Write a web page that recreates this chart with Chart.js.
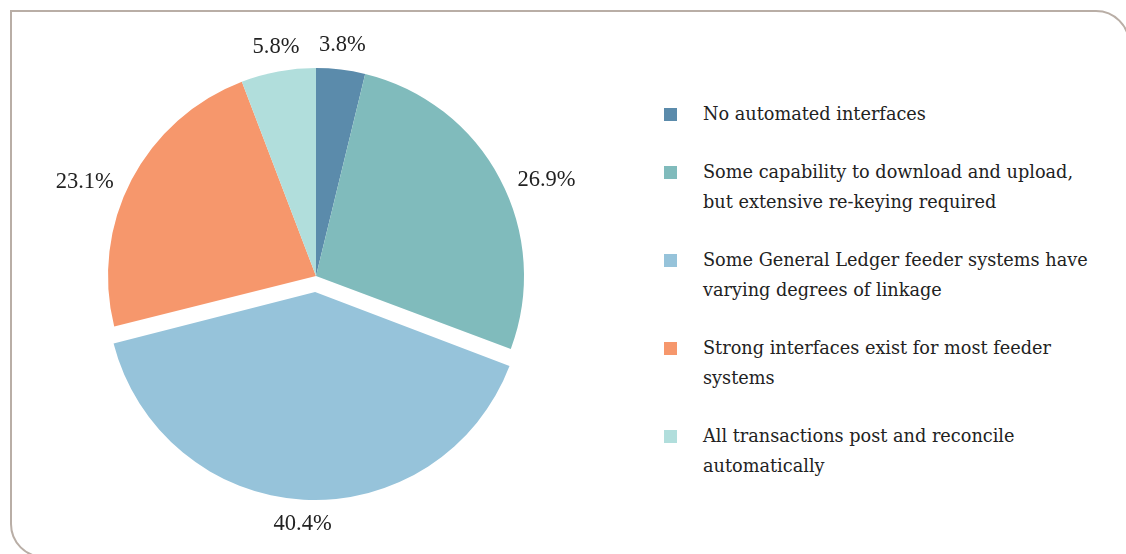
<!DOCTYPE html>
<html>
<head>
<meta charset="utf-8">
<script src="https://cdn.jsdelivr.net/npm/chart.js@4.4.1/dist/chart.umd.min.js"></script>
<style>
  html, body { margin:0; padding:0; background:#fff; }
  #wrap { position:relative; width:1126px; height:554px; overflow:hidden; }
  #frame {
    position:absolute; left:10px; top:10px; width:1120px; height:548px;
    border:2px solid #b9aea6; border-radius:0 34px 0 34px; box-sizing:border-box;
  }
  #pieBox { position:absolute; left:0; top:0; width:632px; height:552px; }
  #legend {
    position:absolute; left:664px; top:99px;
    font-family:"DejaVu Serif", serif; font-size:17.7px; color:#222;
  }
  .item { position:relative; padding-left:39px; line-height:30px; margin-bottom:28px; white-space:nowrap; }
  .box { position:absolute; left:0; top:9px; width:13px; height:13px; }
</style>
</head>
<body>
<div id="wrap">
  <div id="frame"></div>
  <div id="pieBox"><canvas id="myChart"></canvas></div>
  <div id="legend"></div>
</div>
<script>
labels = [
    ['No automated interfaces'],
    ['Some capability to download and upload,', 'but extensive re-keying required'],
    ['Some General Ledger feeder systems have', 'varying degrees of linkage'],
    ['Strong interfaces exist for most feeder', 'systems'],
    ['All transactions post and reconcile', 'automatically']
];
values = [3.8, 26.9, 40.4, 23.1, 5.8];
colors = ['#5b8bab', '#80bbbc', '#96c3da', '#f6976c', '#b1dedc'];
pulled = [0, 0, 64, 0, 0];

// legend on the right, one block per category
var legend = document.getElementById('legend');
labels.forEach(function(lines, i){
    var div = document.createElement('div');
    div.className = 'item';
    div.innerHTML = '<span class="box" style="background:' + colors[i] + '"></span>' + lines.join('<br>');
    legend.appendChild(div);
});

// chart.js grows a pulled-out arc a little; keep every slice at the same radius
function arcShift(arc){
    var off = (arc.options.offset || 0) / 4;
    var fix = 1 - Math.sin(Math.min(Math.PI, arc.circumference || 0));
    return {move: off, grow: off * fix};
}

var sameRadius = {
    id: 'sameRadius',
    beforeDatasetsDraw: function(chart){
        var meta = chart.getDatasetMeta(0);
        var r = meta.controller.outerRadius;
        meta.data.forEach(function(arc){
            arc.outerRadius = r - arcShift(arc).grow;
        });
    }
};

// percent labels just outside each slice: side labels hang off their near edge
// and lean toward the horizontal, top/bottom labels sit centred over the anchor
var outsideLabels = {
    id: 'outsideLabels',
    afterDatasetsDraw: function(chart){
        var ctx = chart.ctx;
        var meta = chart.getDatasetMeta(0);
        var r = meta.controller.outerRadius;
        ctx.save();
        ctx.font = '22.5px "Liberation Serif", serif';
        ctx.fillStyle = '#222';
        meta.data.forEach(function(arc, i){
            var mid = (arc.startAngle + arc.endAngle) / 2;
            var s = arcShift(arc);
            var cos = Math.cos(mid), sin = Math.sin(mid);
            var side = Math.abs(cos) > Math.abs(sin);
            var gap = side ? 20 : 13;
            var ax = arc.x + cos * (s.move + r + gap);
            var ay = arc.y + sin * (s.move + r + gap);
            var text = values[i].toFixed(1) + '%';
            if (side) {
                ctx.textAlign = cos > 0 ? 'left' : 'right';
                ctx.textBaseline = sin < 0 ? 'top' : 'bottom';
            } else {
                ctx.textAlign = 'center';
                ctx.textBaseline = sin > 0 ? 'top' : 'bottom';
            }
            ctx.fillText(text, ax, ay);
        });
        ctx.restore();
    }
};

var ctx = document.getElementById('myChart').getContext('2d');
var chart = new Chart(ctx, {
    type: 'pie',
    data: {
        labels: labels.map(function(l){ return l.join(' '); }),
        datasets: [{
            data: values,
            backgroundColor: colors,
            borderWidth: 0,
            offset: pulled
        }]
    },
    options: {
        responsive: true,
        maintainAspectRatio: false,
        animation: false,
        radius: 208,
        layout: {padding: 0},
        plugins: {
            legend: {display: false},
            tooltip: {enabled: false}
        }
    },
    plugins: [sameRadius, outsideLabels]
});
</script>
</body>
</html>
